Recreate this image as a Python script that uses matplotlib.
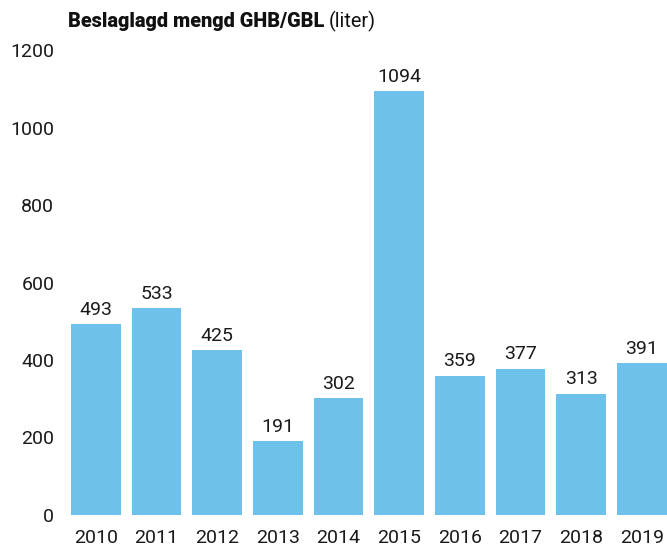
import matplotlib.pyplot as plt

years = ['2010', '2011', '2012', '2013', '2014', '2015', '2016', '2017', '2018', '2019']
liter = [493, 533, 425, 191, 302, 1094, 359, 377, 313, 391]

plt.rcParams['font.family'] = ['Roboto', 'DejaVu Sans']

fig = plt.figure(figsize=(6.67, 5.46), dpi=100)
ax = fig.add_axes([0.098, 0.057, 0.91, 0.851])

x = range(len(years))
bars = ax.bar(x, liter, width=0.82, color='#6EC1EA')
for b, v in zip(bars, liter):
    ax.text(b.get_x() + b.get_width() / 2, v + 14, str(v), ha='center', va='bottom',
            fontsize=14, color='#1a1a1a')

ax.set_xlim(-0.5, 9.5)
ax.set_ylim(0, 1200)
ax.set_yticks(range(0, 1201, 200))
ax.set_xticks(list(x))
ax.set_xticklabels(years)
ax.tick_params(length=0, labelsize=14, colors='#1a1a1a')
ax.tick_params(axis='y', pad=8)
ax.tick_params(axis='x', pad=10)
for s in ax.spines.values():
    s.set_visible(False)

t = fig.text(0.102, 0.96, 'Beslaglagd mengd GHB/GBL', fontsize=14.3, fontweight='heavy',
             ha='left', va='center', color='#111111')
fig.canvas.draw()
bb = t.get_window_extent()
fig.text(bb.x1 / fig.bbox.width + 0.007, 0.96, '(liter)', fontsize=14.3,
         ha='left', va='center', color='#111111')

fig.savefig('out.png', dpi=100)
